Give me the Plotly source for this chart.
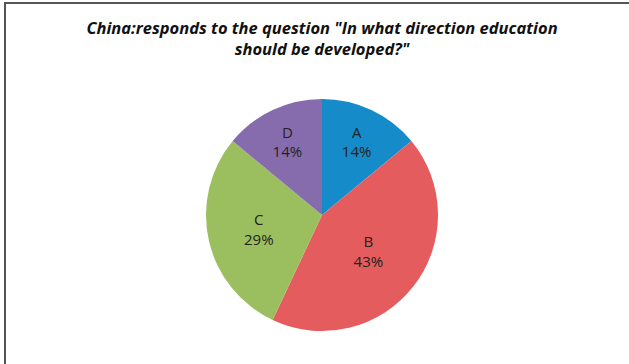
import plotly.graph_objects as go

labels = ["A", "B", "C", "D"]
values = [14, 43, 29, 14]
colors = ["#168BC9", "#E45C5E", "#9BBF5E", "#866CAD"]
title_text = "China:responds to the question \"In what direction education<br>should be developed?\""

# figure sits 6px right and 4px down inside the page (CSS border drawn to its top/left)
OX, OY = 6, 4
W, H = 629 - OX, 364 - OY
cx, cy, r = 322 - OX, 215 - OY, 116

fig = go.Figure(go.Pie(
    labels=labels,
    values=values,
    sort=False,
    direction="clockwise",
    rotation=0,
    marker=dict(colors=colors, line=dict(width=0)),
    texttemplate="%{label}<br>%{percent:.0%}",
    textposition="inside",
    insidetextorientation="horizontal",
    textfont=dict(family="Open Sans", size=15, color="#222222"),
    showlegend=False,
    hoverinfo="skip",
    domain=dict(x=[(cx - r) / W, (cx + r) / W], y=[1 - (cy + r) / H, 1 - (cy - r) / H]),
))

fig.update_layout(
    width=W, height=H,
    margin=dict(l=0, r=0, t=0, b=0),
    paper_bgcolor="white",
    title=dict(
        text=title_text,
        x=(322 - OX) / W, xanchor="center",
        y=1 - 30 / H, yanchor="middle",
        font=dict(family="Open Sans", size=16.5, color="#111111", weight="bold", style="italic"),
    ),
)

fig.write_html(
    "out.html", config={"displayModeBar": False},
    post_script=(
        "document.documentElement.style.margin='0';document.body.style.margin='0';"
        "document.documentElement.style.overflow='hidden';document.body.style.overflow='hidden';"
        "var pdiv=document.querySelector('.plotly-graph-div');"
        "pdiv.style.borderTop='2px solid #555';pdiv.style.borderLeft='2px solid #555';"
        "pdiv.style.marginLeft='4px';pdiv.style.marginTop='2px';"
        "window.scrollTo(0,0);"
    ),
)
